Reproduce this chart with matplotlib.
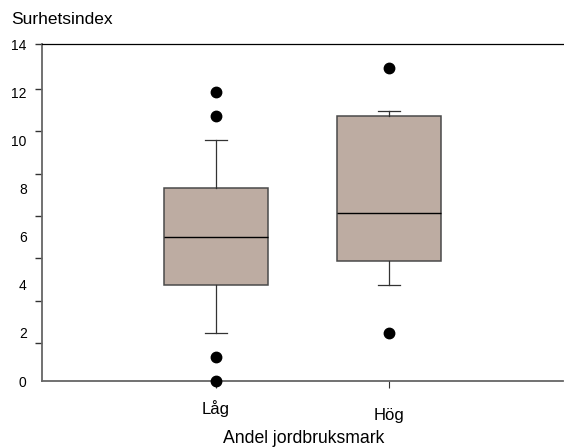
import matplotlib.pyplot as plt

plt.rcParams['font.family'] = ['Liberation Sans', 'DejaVu Sans']

# box statistics
groups = ['Låg', 'Hög']
medians = [6.0, 7.0]
q1 = [4.0, 5.0]
q3 = [8.0, 11.0]
whisker_low = [2.0, 4.0]
whisker_high = [10.0, 11.2]
outliers = [[12.0, 11.0, 1.0, 0.0], [13.0, 2.0]]

y_labels = [0, 2, 4, 6, 8, 10, 12, 14]
# tick marks in the original sit on their own spacing, not on the labels
y_marks = [1.58, 3.34, 5.1, 6.86, 8.62, 10.38, 12.14, 14]

stats = []
for i, g in enumerate(groups):
    stats.append({'label': g, 'med': medians[i], 'q1': q1[i], 'q3': q3[i],
                  'whislo': whisker_low[i], 'whishi': whisker_high[i],
                  'fliers': outliers[i]})

fig = plt.figure(figsize=(5.64, 4.48), dpi=100)
ax = fig.add_axes([42 / 564, 67 / 448, 521 / 564, 337 / 448])

parts = ax.bxp(stats, positions=[1, 2], widths=0.6, patch_artist=True,
               showfliers=True, manage_ticks=False,
               boxprops=dict(facecolor='#bdaca2', edgecolor='#4a4a4a', linewidth=1.1),
               medianprops=dict(color='black', linewidth=1.0),
               whiskerprops=dict(color='#333333', linewidth=0.9),
               capprops=dict(color='#333333', linewidth=0.9),
               capwidths=0.125,
               flierprops=dict(marker='o', markerfacecolor='black', markeredgecolor='black',
                               markersize=7.5, linestyle='none'))
for f in parts['fliers']:
    f.set_clip_on(False)
    f.set_zorder(5)

ax.set_xlim(0, 3)
ax.set_ylim(0, 14)

ax.yaxis.remove_overlapping_locs = False
ax.set_yticks(y_marks)
ax.set_yticklabels([])
ax.set_yticks(y_labels, minor=True)
ax.set_yticklabels([str(v) for v in y_labels], minor=True, fontsize=10)
ax.tick_params(axis='y', which='major', length=5, width=1, color='#333333', direction='out')
ax.tick_params(axis='y', which='minor', length=0, pad=11)

ax.set_xticks([1, 2])
ax.set_xticklabels([])
ax.tick_params(axis='x', length=5, width=0.8, color='#333333', direction='out')

# category names, the second one sits a little lower in the original
label_drop = [0.098, 0.117]
for i, g in enumerate(groups):
    ax.text(i + 1, -label_drop[i], g, transform=ax.get_xaxis_transform(),
            ha='center', va='baseline', fontsize=12)

ax.spines['right'].set_visible(False)
ax.spines['top'].set_color('black')
ax.spines['top'].set_linewidth(0.9)
for s in ['left', 'bottom']:
    ax.spines[s].set_color('#666666')
    ax.spines[s].set_linewidth(1.3)

fig.text(11 / 564, 1 - 23.5 / 448, 'Surhetsindex', fontsize=12.5, va='baseline')
fig.text(304 / 564, 5 / 448, 'Andel jordbruksmark', fontsize=12.7, ha='center', va='baseline')

fig.savefig('out.png', dpi=100)
